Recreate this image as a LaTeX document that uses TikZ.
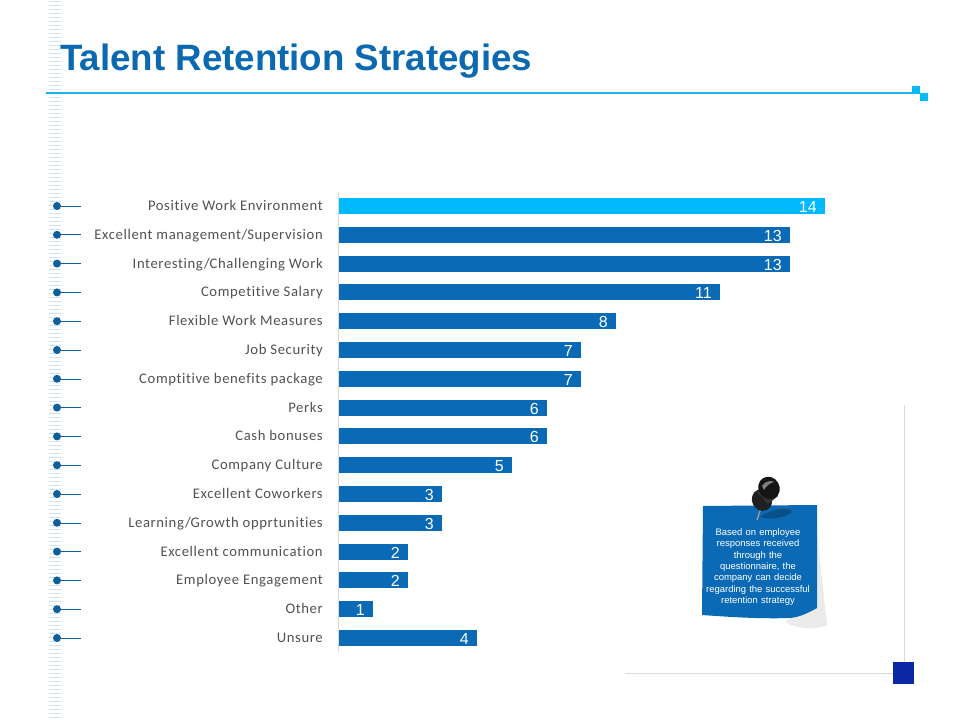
\documentclass[tikz,border=0pt]{standalone}
\usepackage{fontspec}
\setmainfont{Liberation Sans}
\newfontfamily\labelfont[LetterSpace=4.2,Ligatures=NoCommon]{Carlito}
\definecolor{barblue}{HTML}{0B6AB5}
\definecolor{topblue}{HTML}{00B9FF}
\definecolor{titleblue}{HTML}{0A69B0}
\definecolor{linecyan}{HTML}{1FB4E6}
\definecolor{stripe}{HTML}{CBE6F3}
\definecolor{dotblue}{HTML}{0F5F9C}
\definecolor{navy}{HTML}{0A27A6}
\definecolor{rulegray}{HTML}{D9D9DE}
\tikzset{
  x=0.75pt,y=-0.75pt,
  bar/.style={fill=barblue,draw=none},
  topbar/.style={fill=topblue,draw=none},
  rowlabel/.style={anchor=base east,inner sep=0pt,text=black!68,font=\labelfont\fontsize{11pt}{12pt}\selectfont},
  valuelabel/.style={anchor=base east,inner sep=0pt,text=white,font=\fontsize{12pt}{14pt}\selectfont},
  bullet/.style={circle,fill=dotblue,inner sep=0pt,minimum size=6pt},
  leader/.style={draw=dotblue,line width=0.45pt},
  notetext/.style={align=center,text=white,inner sep=0pt,text width=90pt,font=\fontsize{7.1pt}{8.55pt}\selectfont},
}
\begin{document}
\begin{tikzpicture}
\useasboundingbox (0,0) rectangle (960,720);
\fill[white] (0,0) rectangle (960,720);
% left stripes
\foreach \i in {0,...,179}{
  \draw[stripe,line width=0.7pt] (49,{1+4*\i}) -- (61,{1+4*\i});
}
% title
\node[anchor=base west,inner sep=0pt,text=titleblue,font=\bfseries\fontsize{27.5pt}{30pt}\selectfont] (title) at (60,70.5) {Talent Retention Strategies};
\coordinate (ruleL) at (46,93);
\coordinate (ruleR) at (916,93);
\draw[linecyan,line width=1.3pt] (ruleL) -- (ruleR);
\fill[topblue] (912,86) rectangle (920,94);
\fill[topblue] (920,93) rectangle (928,101);
% axis
\coordinate (axisT) at (338.5,192);
\coordinate (axisB) at (338.5,652);
\draw[rulegray,line width=0.6pt] (axisT) -- (axisB);
% rows
\foreach \n/\lab/\val/\xe [count=\i from 0] in {
 a/Positive Work Environment/14/825,
 b/Excellent management\slash Supervision/13/790,
 c/Interesting\slash Challenging Work/13/790,
 d/Competitive Salary/11/720,
 e/Flexible Work Measures/8/616,
 f/Job Security/7/581,
 g/Comptitive benefits package/7/581,
 h/Perks/6/547,
 i/Cash bonuses/6/547,
 j/Company Culture/5/512,
 k/Excellent Coworkers/3/442,
 l/Learning\slash Growth opprtunities/3/442,
 m/Excellent communication/2/408,
 n/Employee Engagement/2/408,
 o/Other/1/373,
 p/Unsure/4/477}{
  \pgfmathsetmacro{\yc}{206+28.8*\i}
  \ifnum\i=0\def\bs{topbar}\else\def\bs{bar}\fi
  \fill[\bs] (339,\yc-8) rectangle (\xe,\yc+8);
  \node[valuelabel] (v\n) at (\xe-8,\yc+6.5) {\val};
  \node[rowlabel] (l\n) at (323,\yc+4.5) {\lab};
  \node[bullet] (d\n) at (57,\yc) {};
  \coordinate (e\n) at (81,\yc);
  \draw[leader] (d\n) -- (e\n);
}
% note shadow
\fill[black!8] (817,533) -- (827,625) .. controls (815,630) and (800,630) .. (785,622) -- (817,600) -- cycle;
% note
\fill[barblue] (703,506) -- (817,505) -- (817,608) .. controls (808,613) and (800,617) .. (790,618) .. controls (760,619) and (730,617) .. (702,615) -- cycle;
\node[notetext] (note) at (758,567) {Based on employee\\responses received\\through the\\questionnaire, the\\company can decide\\regarding the successful\\retention strategy};
% pin
\fill[black!25!barblue] (760,517) .. controls (775,507) and (790,507) .. (792,512) .. controls (790,516) and (772,521) .. (760,517) -- cycle;
\draw[black!40,line width=1pt] (760,511) -- (757,520);
\fill[black!88,rotate around={25:(762,500)}] (762,500) ellipse (10 and 11);
\fill[black!80] (757,492) -- (772,482) -- (778,496) -- (768,504) -- cycle;
\fill[black!92,rotate around={30:(769,488)}] (769,488) ellipse (10.5 and 11.5);
\fill[black!50] (762,486) .. controls (765,481) and (771,480) .. (774,482) .. controls (770,483) and (766,486) .. (764,490) -- cycle;
% corner rules
\coordinate (vT) at (904.5,405);
\coordinate (vB) at (904.5,662);
\coordinate (hL) at (625,673.5);
\coordinate (hR) at (893,673.5);
\draw[rulegray,line width=0.7pt] (vT) -- (vB);
\draw[rulegray,line width=0.7pt] (hL) -- (hR);
\fill[navy] (893,662) rectangle (914,684);
\end{tikzpicture}
\end{document}
